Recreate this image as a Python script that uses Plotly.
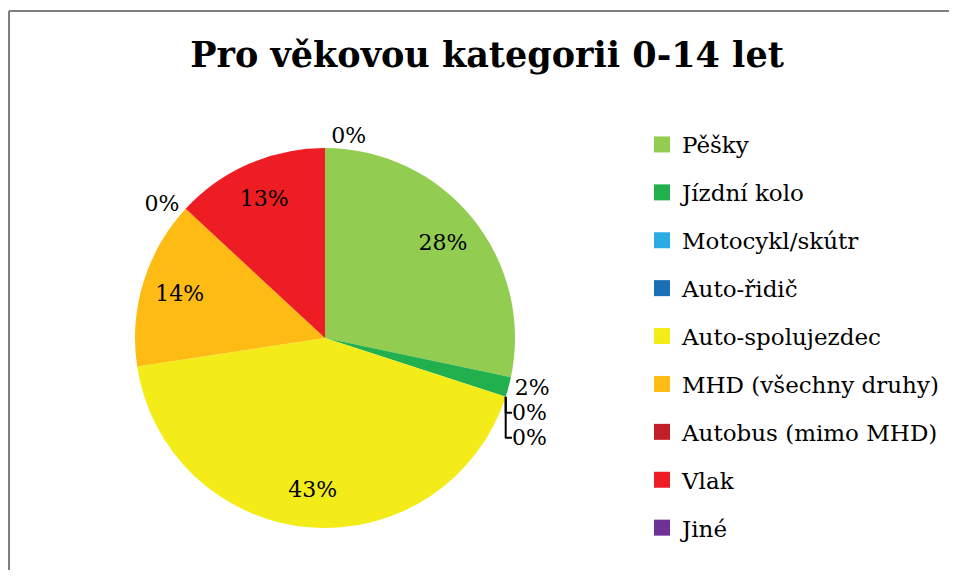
import plotly.graph_objects as go

categories = ["Pěšky", "Jízdní kolo", "Motocykl/skútr", "Auto-řidič", "Auto-spolujezdec",
              "MHD (všechny druhy)", "Autobus (mimo MHD)", "Vlak", "Jiné"]
values = [28.3, 1.7, 0.0, 0.0, 42.6, 14.3, 0.0, 13.1, 0.0]
colors = ["#92CC50", "#22B04E", "#2AACE2", "#1B6FB5", "#F3EC19",
          "#FDBB14", "#C1202A", "#EE1D24", "#6F3198"]
title_text = "Pro věkovou kategorii 0-14 let"

FONT = "DejaVu Serif"
W, H = 941, 562  # page has 8px body margin

positions = ["inside" if v >= 5 else "outside" for v in values]
dom = dict(x=[127/W, 507/W], y=[42/H, 422/H])

fig = go.Figure()
# filled pie
fig.add_trace(go.Pie(
    labels=categories, values=values, sort=False, direction="clockwise", rotation=0,
    marker=dict(colors=colors, line=dict(width=0)),
    textinfo="none", showlegend=False, hoverinfo="skip", domain=dom,
))
# transparent ring carrying the percentage labels (places them near 0.8 R)
fig.add_trace(go.Pie(
    labels=categories, values=values, sort=False, direction="clockwise", rotation=0,
    hole=0.6,
    marker=dict(colors=["rgba(0,0,0,0)"] * len(values), line=dict(width=0)),
    texttemplate="%{percent:.0%}", textposition=positions,
    insidetextorientation="horizontal",
    textfont=dict(family=FONT, size=22, color="black"),
    showlegend=False, hoverinfo="label+percent", domain=dom,
))
for name, col in zip(categories, colors):
    fig.add_trace(go.Scatter(x=[None], y=[None], mode="markers", name=name,
                             legendgroup=name,
                             marker=dict(symbol="square", size=16, color=col)))

fig.update_layout(
    width=W, height=H,
    margin=dict(l=0, r=0, t=0, b=0),
    paper_bgcolor="white", plot_bgcolor="white",
    title=dict(text=f"<b>{title_text}</b>", x=479/W, xanchor="center", y=1-47/H, yanchor="middle",
               font=dict(family=FONT, size=35, color="black")),
    xaxis=dict(visible=False), yaxis=dict(visible=False),
    legend=dict(x=634/W, xanchor="left", y=1-115/H, yanchor="top",
                font=dict(family=FONT, size=23, color="black"),
                tracegroupgap=15, itemclick=False, bgcolor="rgba(0,0,0,0)"),
    shapes=[
        dict(type="line", xref="paper", yref="paper", x0=1/W, x1=1, y0=1-3/H, y1=1-3/H,
             line=dict(color="#7F7F7F", width=2)),
        dict(type="line", xref="paper", yref="paper", x0=1/W, x1=1/W, y0=0, y1=1-3/H,
             line=dict(color="#7F7F7F", width=2)),
    ],
)
fig.write_html("out.html")
